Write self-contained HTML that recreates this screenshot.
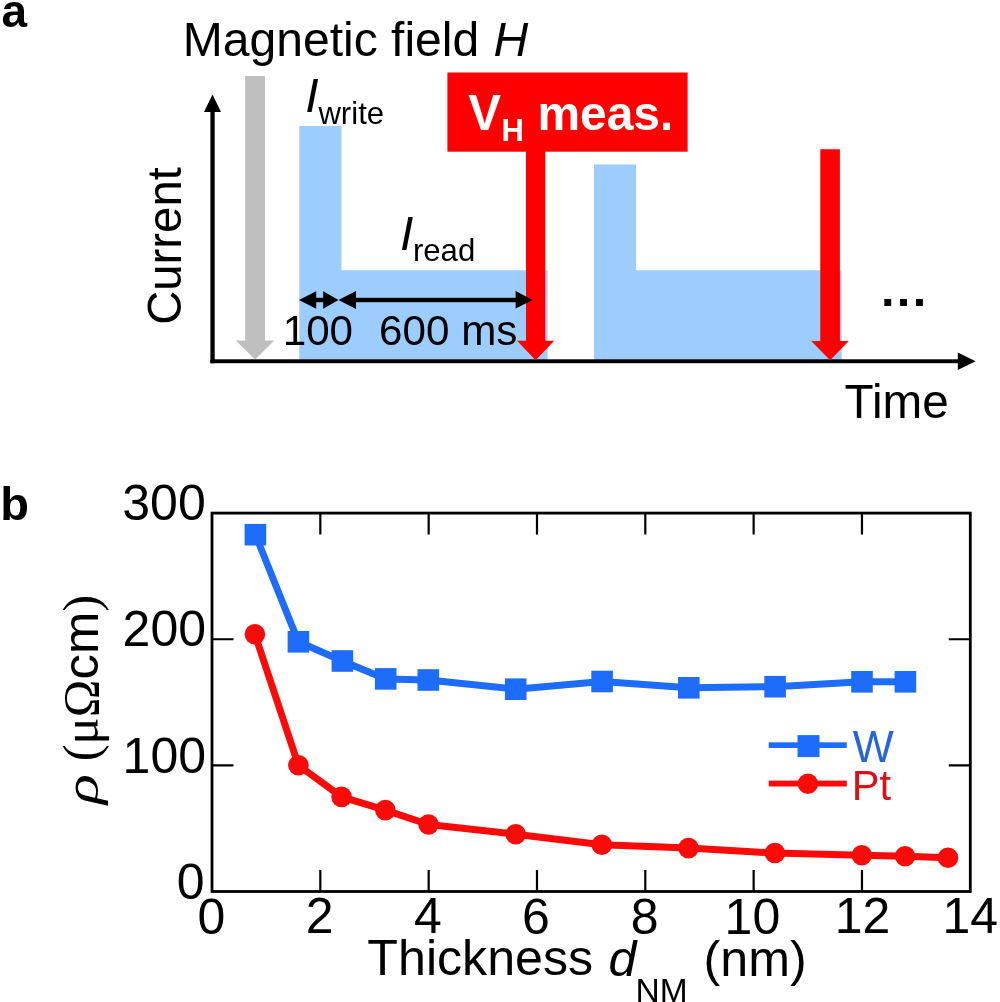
<!DOCTYPE html>
<html><head><meta charset="utf-8">
<style>
html,body{margin:0;padding:0;background:#fff;}
body{width:1000px;height:1002px;overflow:hidden;}
svg{display:block;will-change:transform;}
text{font-family:"Liberation Sans",sans-serif;}
.se{font-family:"Liberation Serif",serif;}
.sa{font-family:"Liberation Sans",sans-serif;}
</style></head>
<body>
<svg width="1000" height="1002" viewBox="0 0 1000 1002">
<rect x="0" y="0" width="1000" height="1002" fill="#fff"/>
<path d="M299.3 126 H341.5 V270.3 H547.6 V361 H299.3 Z" fill="#9ccdfe"/>
<path d="M594 164.4 H636 V270.3 H841.6 V361 H594 Z" fill="#9ccdfe"/>
<path d="M245.2 76 H265 V340.5 H274.3 L255.1 359.6 L235.7 340.5 H245.2 Z" fill="#bfbfbf"/>
<rect x="210.4" y="110" width="4.3" height="253.2" fill="#000"/>
<path d="M212.5 94.6 L221 112 L204 112 Z" fill="#000"/>
<rect x="210.4" y="359.3" width="750" height="3.9" fill="#000"/>
<path d="M975.6 361.3 L957.8 352.6 L957.8 370.1 Z" fill="#000"/>
<rect x="447.4" y="72.5" width="240.2" height="79.2" fill="#ff0000"/>
<path d="M526 150 H545.3 V340.8 H554.2 L535.6 360.2 L517 340.8 H526 Z" fill="#ff0000"/>
<path d="M820.3 149.2 H839.9 V341 H848.8 L830.1 360.2 L811.2 341 H820.3 Z" fill="#ff0000"/>
<g fill="#000"><path d="M298.9 300 L316.2 291.2 L316.2 308.8 Z"/><rect x="315.5" y="297.8" width="8.5" height="4.4"/><path d="M338.5 300 L323.2 291.2 L323.2 308.8 Z"/><path d="M338.5 300 L356 290.9 L356 308.9 Z"/><rect x="355" y="297.8" width="161.6" height="4.4"/><path d="M532.6 300 L515.6 291.1 L515.6 308.5 Z"/></g>
<g fill="#000"><rect x="884.3" y="299" width="6.9" height="7"/><rect x="900.1" y="299" width="6.9" height="7"/><rect x="916" y="299" width="6.9" height="7"/></g>
<rect x="212.0" y="513.1" width="758.3" height="378.4" fill="none" stroke="#000" stroke-width="2.8"/>
<path d="M320.33 513.1 V534.6 M320.33 891.5 V870.0 M428.66 513.1 V534.6 M428.66 891.5 V870.0 M536.99 513.1 V534.6 M536.99 891.5 V870.0 M645.31 513.1 V534.6 M645.31 891.5 V870.0 M753.64 513.1 V534.6 M753.64 891.5 V870.0 M861.97 513.1 V534.6 M861.97 891.5 V870.0 M212.0 765.37 H233.5 M970.3 765.37 H948.8 M212.0 639.23 H233.5 M970.3 639.23 H948.8" stroke="#000" stroke-width="2.2" fill="none"/>
<polyline points="255.4,534.7 298.4,641.8 342.4,661 385.7,678.9 428.3,680 515.7,689.2 602.1,681.5 688.8,687.8 775.1,686.7 862,681.8 905.4,681.8" fill="none" stroke="#1e6cfc" stroke-width="7.0" stroke-linejoin="round"/>
<g fill="#1e6cfc"><rect x="244.60" y="523.90" width="21.6" height="21.6"/><rect x="287.60" y="631.00" width="21.6" height="21.6"/><rect x="331.60" y="650.20" width="21.6" height="21.6"/><rect x="374.90" y="668.10" width="21.6" height="21.6"/><rect x="417.50" y="669.20" width="21.6" height="21.6"/><rect x="504.90" y="678.40" width="21.6" height="21.6"/><rect x="591.30" y="670.70" width="21.6" height="21.6"/><rect x="678.00" y="677.00" width="21.6" height="21.6"/><rect x="764.30" y="675.90" width="21.6" height="21.6"/><rect x="851.20" y="671.00" width="21.6" height="21.6"/><rect x="894.60" y="671.00" width="21.6" height="21.6"/></g>
<polyline points="254.9,634.3 298.4,765.2 341.6,796.9 385.3,810.1 428.5,824.5 515.7,834.2 601.8,844.8 688.5,848.1 774.9,853 861.8,855.2 905.1,856.3 948,857.8" fill="none" stroke="#fb0a0a" stroke-width="7.0" stroke-linejoin="round"/>
<g fill="#fb0a0a"><circle cx="254.9" cy="634.3" r="10.3"/><circle cx="298.4" cy="765.2" r="10.3"/><circle cx="341.6" cy="796.9" r="10.3"/><circle cx="385.3" cy="810.1" r="10.3"/><circle cx="428.5" cy="824.5" r="10.3"/><circle cx="515.7" cy="834.2" r="10.3"/><circle cx="601.8" cy="844.8" r="10.3"/><circle cx="688.5" cy="848.1" r="10.3"/><circle cx="774.9" cy="853" r="10.3"/><circle cx="861.8" cy="855.2" r="10.3"/><circle cx="905.1" cy="856.3" r="10.3"/><circle cx="948" cy="857.8" r="10.3"/></g>
<rect x="768.7" y="742.3" width="78.1" height="5.7" fill="#1e6cfc"/>
<rect x="797.5" y="735.1" width="22" height="22" fill="#1e6cfc"/>
<rect x="768.7" y="780.6" width="78.1" height="5.9" fill="#fb0a0a"/>
<circle cx="807.9" cy="783.7" r="10.2" fill="#fb0a0a"/>
<text x="1.50" y="27.00" font-size="46.00" font-weight="bold">a</text>
<text x="182.70" y="56.40" font-size="48.07" >Magnetic field</text>
<text x="493.50" y="55.70" font-size="48.07" font-style="italic">H</text>
<text x="305.30" y="112.00" font-size="48.07" font-style="italic">I</text>
<text x="318.40" y="123.50" font-size="31.13" >write</text>
<text x="400.10" y="249.60" font-size="48.07" font-style="italic">I</text>
<text x="412.90" y="260.90" font-size="31.15" >read</text>
<text x="282.70" y="344.80" font-size="42.19" >100</text>
<text x="379.10" y="344.80" font-size="42.19" >600 ms</text>
<text x="844.55" y="417.90" font-size="47.67" >Time</text>
<text x="468.15" y="129.50" font-size="49.12" font-weight="bold" fill="#fff">V</text>
<text x="501.50" y="141.00" font-size="31.00" font-weight="bold" fill="#fff">H</text>
<text x="537.40" y="129.50" font-size="47.93" font-weight="bold" fill="#fff">meas.</text>
<text x="0.25" y="520.00" font-size="47.00" font-weight="bold">b</text>
<text x="122.30" y="520.30" font-size="50.01" >300</text>
<text x="122.60" y="646.40" font-size="50.01" >200</text>
<text x="122.60" y="772.50" font-size="50.01" >100</text>
<text x="176.70" y="899.00" font-size="50.01" >0</text>
<text x="197.60" y="933.90" font-size="50.01" >0</text>
<text x="305.80" y="933.10" font-size="50.01" >2</text>
<text x="414.00" y="933.10" font-size="50.01" >4</text>
<text x="521.90" y="933.90" font-size="50.01" >6</text>
<text x="630.80" y="933.90" font-size="50.01" >8</text>
<text x="724.60" y="933.90" font-size="50.01" >10</text>
<text x="834.70" y="933.30" font-size="50.01" >12</text>
<text x="942.50" y="933.30" font-size="50.01" >14</text>
<text x="367.35" y="975.00" font-size="50.16" >Thickness</text>
<text x="608.40" y="975.70" font-size="50.16" font-style="italic">d</text>
<text x="635.60" y="1001.80" font-size="33.50" >NM</text>
<text x="703.55" y="976.20" font-size="50.16" >(nm)</text>
<text x="852.65" y="761.60" font-size="43.44" fill="#2464e0">W</text>
<text x="851.75" y="799.90" font-size="41.64" fill="#dc1018">Pt</text>
<text transform="translate(180.90 324.80) rotate(-90)" font-size="47.27" >Current</text>
<text transform="translate(97.80 761.30) rotate(-90)" font-size="50.75" ><tspan class="se">(μΩ</tspan>cm<tspan class="se">)</tspan></text>
<text transform="translate(97.50 804.30) rotate(-90) scale(1.304 1)" font-size="48.24" class="se" font-style="italic">ρ</text>
</svg>
</body></html>
